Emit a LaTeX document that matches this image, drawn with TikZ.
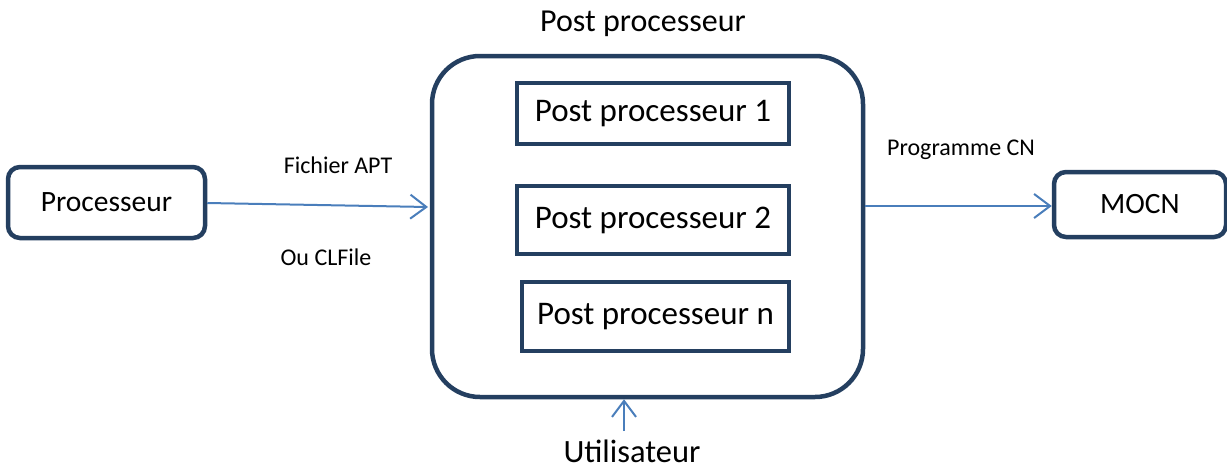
\documentclass[tikz,border=0pt]{standalone}
\usepackage{fontspec}
\setmainfont{Carlito}
\usetikzlibrary{arrows.meta}
\definecolor{navy}{HTML}{243F60}
\definecolor{arrowblue}{HTML}{4A7EBB}
\begin{document}
\begin{tikzpicture}[x=1pt,y=-1pt,
  rbox/.style={draw=navy,line width=4.5pt,rounded corners=12pt,inner sep=0pt,font=\fontsize{29.5}{34}\selectfont},
  pbox/.style={draw=navy,line width=4pt,inner sep=0pt,font=\fontsize{33}{38}\selectfont},
  conn/.style={draw=arrowblue,line width=2pt,-{Straight Barb[length=16pt,width=24pt,line width=2pt]}},
  lbl/.style={font=\fontsize{24}{28}\selectfont,inner sep=0pt}]
\useasboundingbox (0,0) rectangle (1227,464);
% outer post-processor box
\node[draw=navy,line width=4.5pt,rounded corners=48pt,minimum width=431pt,minimum height=341pt,inner sep=0pt] (big) at (647.5,226.5) {};
\node[inner sep=0pt,font=\fontsize{32}{37}\selectfont] (title) at (643,24) {Post processeur};
% inner boxes
\node[pbox,minimum width=272pt,minimum height=61pt] (pp1) at (653,113.5) {Post processeur 1};
\node[pbox,minimum width=272pt,minimum height=68pt] (pp2) at (653,220) {Post processeur 2};
\node[pbox,minimum width=267pt,minimum height=69pt] (ppn) at (655.5,316.5) {Post processeur n};
% side boxes
\node[rbox,minimum width=197pt,minimum height=71pt] (proc) at (106.5,202.5) {Processeur};
\node[rbox,minimum width=172pt,minimum height=65pt] (mocn) at (1140,204.5) {MOCN};
% user
\node[inner sep=0pt,anchor=base,font=\fontsize{32.5}{37}\selectfont] (user) at (632,462) {Utilisateur};
% connectors
\coordinate (a1) at (428,207);
\draw[conn] (proc.east |- 0,203) -- (a1);
\draw[conn] (big.east |- 0,206) -- (mocn.west |- 0,206);
\coordinate (u0) at (624,431);
\draw[conn] (u0) -- (big.south -| u0);
% labels
\node[lbl] (l1) at (338,165) {Fichier APT};
\node[lbl] (l2) at (326,257) {Ou CLFile};
\node[lbl] (l3) at (961,150) {Programme CN};
\end{tikzpicture}
\end{document}
